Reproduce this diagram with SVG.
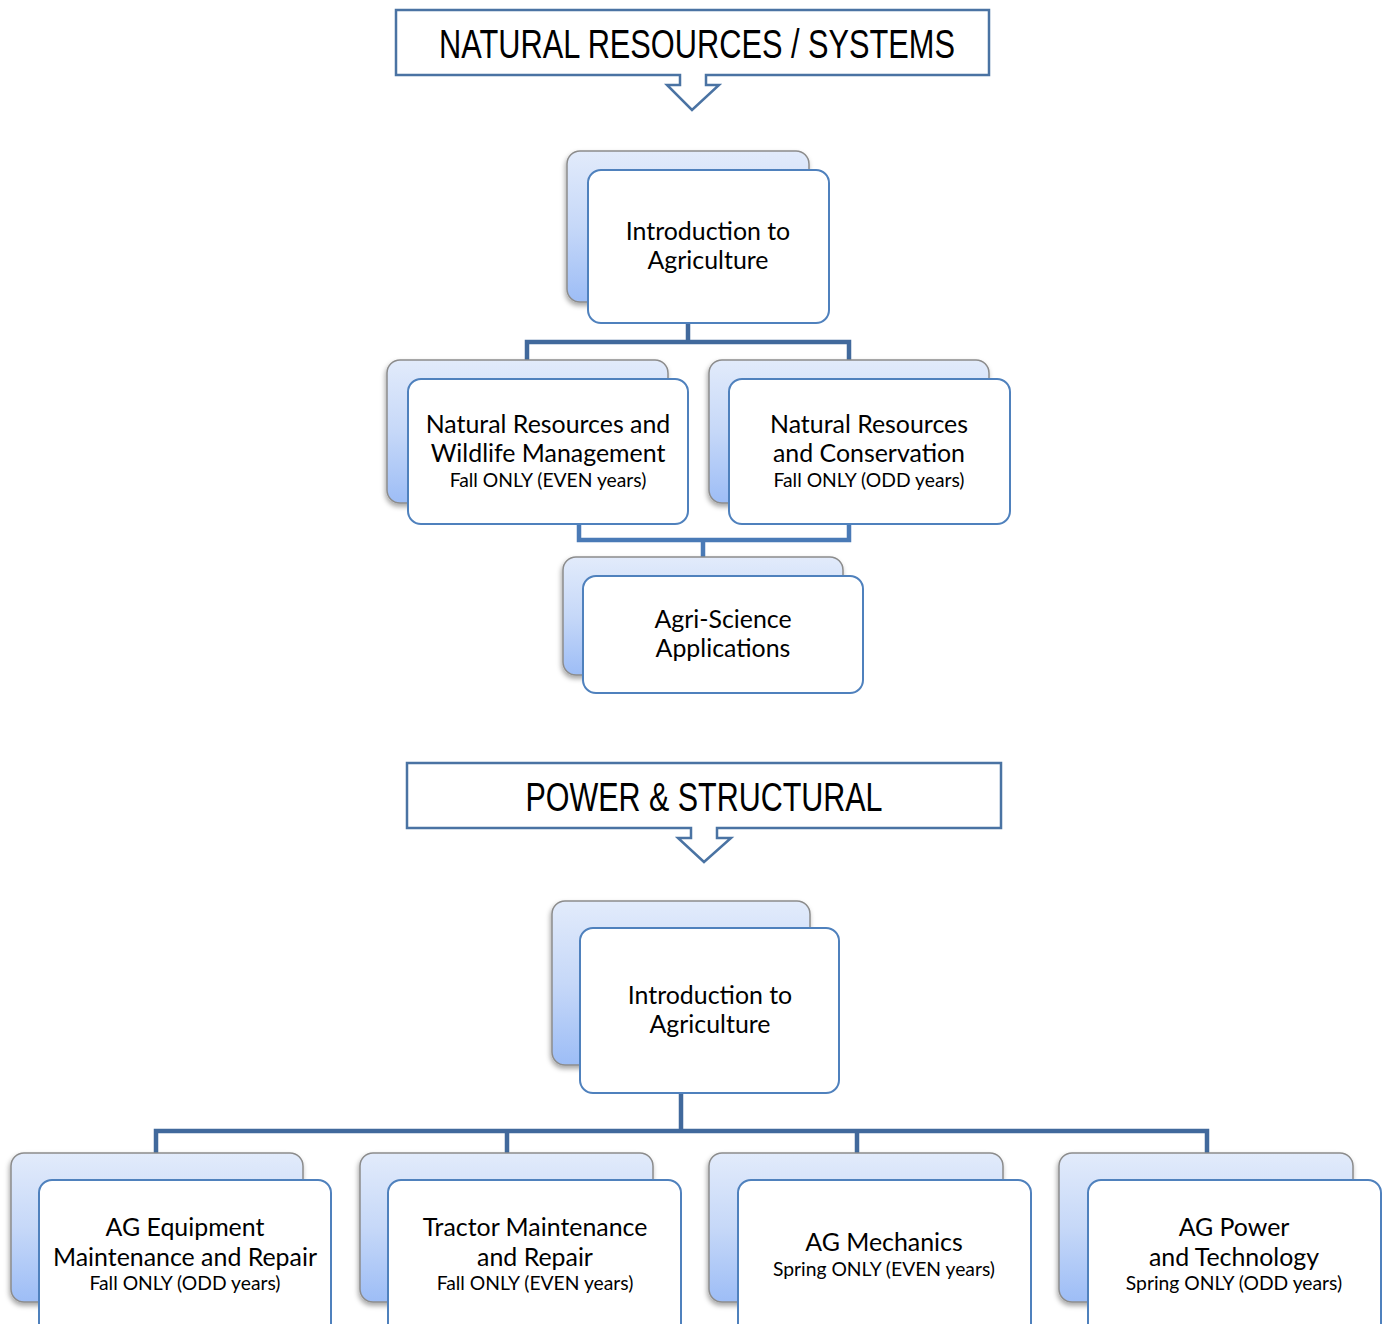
<svg xmlns="http://www.w3.org/2000/svg" width="1384" height="1324" viewBox="0 0 1384 1324">
  <defs>
    <linearGradient id="backFill" x1="0" y1="0" x2="0" y2="1">
      <stop offset="0" stop-color="#e2ebfb"/>
      <stop offset="0.5" stop-color="#c6d8f8"/>
      <stop offset="1" stop-color="#9dbdf6"/>
    </linearGradient>
    <filter id="shadow" x="-10%" y="-10%" width="120%" height="125%">
      <feDropShadow dx="-1" dy="3" stdDeviation="2.5" flood-color="#000" flood-opacity="0.35"/>
    </filter>
  </defs>
  <style>
    .callout { fill: #ffffff; stroke: #4a73a3; stroke-width: 2.5; stroke-linejoin: miter; }
    .ttext { font-family: "Liberation Sans", Arial, sans-serif; font-size: 40px; fill: #000; text-anchor: middle; }
    .back { fill: url(#backFill); stroke: #8c8c8c; stroke-width: 1.5; filter: url(#shadow); }
    .front { fill: #ffffff; stroke: #4f81bd; stroke-width: 2; }
    .main { font-family: Lato, "Open Sans", sans-serif; font-size: 24.9px; fill: #000; text-anchor: middle; }
    .sub { font-family: Lato, "Open Sans", sans-serif; font-size: 19.3px; fill: #000; text-anchor: middle; }
    .conn { fill: none; stroke: #41699c; stroke-width: 4.5; stroke-linejoin: miter; }
    .conn2 { fill: none; stroke: #4a7ab6; stroke-width: 4.5; stroke-linejoin: miter; }
  </style>

  <!-- Section header: natural resources -->
  <g id="header-natural">
    <path class="callout" d="M396,10 H989 V75 H706 V85 H719 L692,110 L667,85 H680 V75 H396 Z"/>
    <text class="ttext" x="697" y="58" textLength="516" lengthAdjust="spacingAndGlyphs">NATURAL RESOURCES / SYSTEMS</text>
  </g>

  <!-- Section header: power & structural -->
  <g id="header-power">
    <path class="callout" d="M407,763 H1001 V828 H717 V838 H731 L704,862 L678,838 H691 V828 H407 Z"/>
    <text class="ttext" x="704" y="811" textLength="357" lengthAdjust="spacingAndGlyphs">POWER &amp; STRUCTURAL</text>
  </g>

  <!-- Connectors -->
  <g id="connectors">
    <path class="conn" d="M688,323 V342 M527,361 V342 H849 V361"/>
    <path class="conn2" d="M579,524 V540 H849 V524 M703,540 V558"/>
    <path class="conn" d="M681,1093 V1131 M156,1154 V1131 H1207 V1154 M507,1131 V1154 M857,1131 V1154"/>
  </g>

  <!-- Natural resources pathway -->
  <g id="intro-ag-1">
    <rect class="back" x="567" y="151" width="242" height="151" rx="13"/>
    <rect class="front" x="588" y="170" width="241" height="153" rx="13"/>
    <text class="main" x="708" y="240">Introduction to</text>
    <text class="main" x="708" y="269">Agriculture</text>
  </g>

  <g id="nr-wildlife">
    <rect class="back" x="387" y="360" width="281" height="143" rx="13"/>
    <rect class="front" x="408" y="379" width="280" height="145" rx="13"/>
    <text class="main" x="548" y="433">Natural Resources and</text>
    <text class="main" x="548" y="462">Wildlife Management</text>
    <text class="sub" x="548" y="487">Fall ONLY (EVEN years)</text>
  </g>

  <g id="nr-conservation">
    <rect class="back" x="709" y="360" width="280" height="143" rx="13"/>
    <rect class="front" x="729" y="379" width="281" height="145" rx="13"/>
    <text class="main" x="869" y="433">Natural Resources</text>
    <text class="main" x="869" y="462">and Conservation</text>
    <text class="sub" x="869" y="487">Fall ONLY (ODD years)</text>
  </g>

  <g id="agri-science">
    <rect class="back" x="563" y="557" width="280" height="118" rx="13"/>
    <rect class="front" x="583" y="576" width="280" height="117" rx="13"/>
    <text class="main" x="723" y="628">Agri-Science</text>
    <text class="main" x="723" y="657">Applications</text>
  </g>

  <!-- Power & structural pathway -->
  <g id="intro-ag-2">
    <rect class="back" x="552" y="901" width="258" height="164" rx="13"/>
    <rect class="front" x="580" y="928" width="259" height="165" rx="13"/>
    <text class="main" x="710" y="1004">Introduction to</text>
    <text class="main" x="710" y="1033">Agriculture</text>
  </g>

  <g id="ag-equipment">
    <rect class="back" x="11" y="1153" width="292" height="149" rx="13"/>
    <rect class="front" x="39" y="1180" width="292" height="165" rx="13"/>
    <text class="main" x="185" y="1236">AG Equipment</text>
    <text class="main" x="185" y="1266">Maintenance and Repair</text>
    <text class="sub" x="185" y="1290">Fall ONLY (ODD years)</text>
  </g>

  <g id="tractor-maintenance">
    <rect class="back" x="360" y="1153" width="293" height="149" rx="13"/>
    <rect class="front" x="388" y="1180" width="293" height="165" rx="13"/>
    <text class="main" x="535" y="1236">Tractor Maintenance</text>
    <text class="main" x="535" y="1266">and Repair</text>
    <text class="sub" x="535" y="1290">Fall ONLY (EVEN years)</text>
  </g>

  <g id="ag-mechanics">
    <rect class="back" x="709" y="1153" width="294" height="149" rx="13"/>
    <rect class="front" x="738" y="1180" width="293" height="165" rx="13"/>
    <text class="main" x="884" y="1251">AG Mechanics</text>
    <text class="sub" x="884" y="1276">Spring ONLY (EVEN years)</text>
  </g>

  <g id="ag-power">
    <rect class="back" x="1059" y="1153" width="294" height="149" rx="13"/>
    <rect class="front" x="1088" y="1180" width="293" height="165" rx="13"/>
    <text class="main" x="1234" y="1236">AG Power</text>
    <text class="main" x="1234" y="1266">and Technology</text>
    <text class="sub" x="1234" y="1290">Spring ONLY (ODD years)</text>
  </g>
</svg>
